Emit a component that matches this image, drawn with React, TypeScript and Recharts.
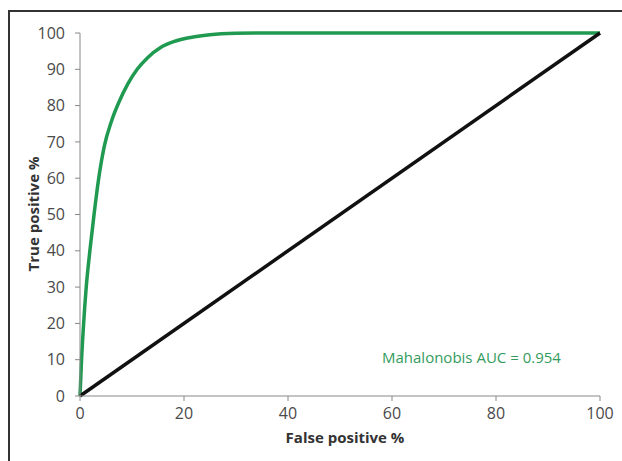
import { LineChart, Line, XAxis, YAxis } from 'recharts';

const rocFpr = [0, 0.3, 0.7, 1.2, 1.9, 2.7, 3.6, 4.7, 6, 7.5, 9.2, 11, 13, 15.5, 18, 21, 25, 30, 35, 100];
const rocTpr = [0, 10, 20, 30, 40, 50, 60, 69, 75.5, 81, 86, 90, 93.2, 96, 97.6, 98.7, 99.5, 99.9, 100, 100];

const chanceFpr = [0, 100];
const chanceTpr = [0, 100];

const xTicks = [0, 20, 40, 60, 80, 100];
const yTicks = [0, 10, 20, 30, 40, 50, 60, 70, 80, 90, 100];

const rocData = rocFpr.map((x, i) => ({ x, y: rocTpr[i] }));
const chanceData = chanceFpr.map((x, i) => ({ x, y: chanceTpr[i] }));

const font = '"Open Sans", sans-serif';
const tickStyle = { fontSize: 16, fill: '#4a4a4a', fontFamily: font };

export default function App() {
    return (
        <div style={{ position: 'fixed', left: 0, top: 0, width: 622, height: 461, background: '#fff', overflow: 'hidden' }}>
            <div style={{ position: 'absolute', left: 8, top: 10, width: 640, height: 480, borderTop: '2px solid #333', borderLeft: '2px solid #333' }} />
            <div style={{ position: 'absolute', left: 0, top: 0 }}>
                <LineChart width={622} height={461} margin={{ top: 33, right: 22, left: 20, bottom: 35 }}>
                    <XAxis
                        type="number"
                        dataKey="x"
                        domain={[0, 100]}
                        ticks={xTicks}
                        height={30}
                        tick={tickStyle}
                        tickSize={5}
                        tickMargin={7}
                        stroke="#888"
                        label={{
                            content: () => (
                                <g>
                                    <text x={345} y={437} textAnchor="middle" dominantBaseline="central"
                                        style={{ fontSize: 15, fontWeight: 700, fill: '#333', fontFamily: font }}>
                                        False positive %
                                    </text>
                                    <text x={382} y={357} textAnchor="start" dominantBaseline="central"
                                        style={{ fontSize: 15, fill: '#349b5c', fontFamily: font }}>
                                        Mahalonobis AUC = 0.954
                                    </text>
                                </g>
                            )
                        }}
                    />
                    <YAxis
                        type="number"
                        dataKey="y"
                        domain={[0, 100]}
                        ticks={yTicks}
                        width={60}
                        tick={tickStyle}
                        tickSize={5}
                        tickMargin={10}
                        stroke="#888"
                        label={{
                            content: () => (
                                <text x={33} y={214} transform="rotate(-90 33 214)" textAnchor="middle" dominantBaseline="central"
                                    style={{ fontSize: 15, fontWeight: 700, fill: '#333', fontFamily: font }}>
                                    True positive %
                                </text>
                            )
                        }}
                    />
                    <Line data={rocData} dataKey="y" type="monotone" stroke="#1f9a50" strokeWidth={3.5} dot={false} isAnimationActive={false} />
                    <Line data={chanceData} dataKey="y" type="linear" stroke="#111" strokeWidth={3.5} dot={false} isAnimationActive={false} />
                </LineChart>
            </div>
        </div>
    );
}
